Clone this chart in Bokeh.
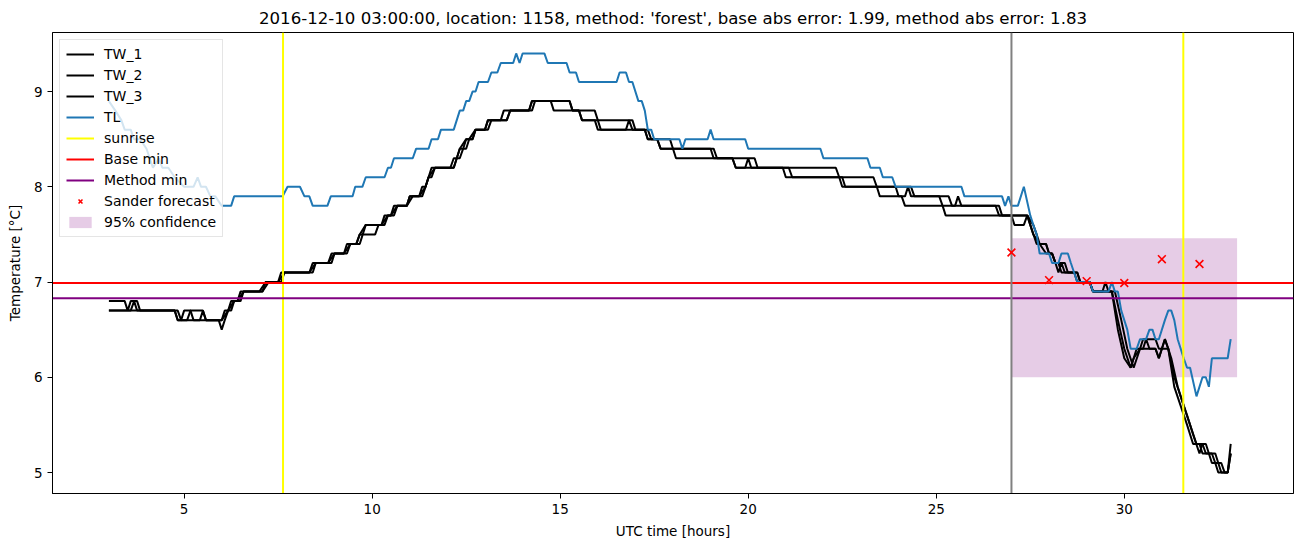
from bokeh.plotting import figure
from bokeh.models import Range1d, FixedTicker, Legend, LegendItem
from bokeh.embed import file_html
from bokeh.resources import INLINE

TITLE = "2016-12-10 03:00:00, location: 1158, method: 'forest', base abs error: 1.99, method abs error: 1.83"

tw1_pts = [(3.00,6.8),(3.42,6.8),(3.50,6.7),(3.58,6.8),(3.75,6.8),(3.83,6.7),
    (4.75,6.7),(4.83,6.6),(5.08,6.6),(5.17,6.7),(5.50,6.7),(5.58,6.6),
    (5.92,6.6),(6.00,6.5),(6.08,6.6),(6.17,6.7),(6.25,6.8),(6.42,6.8),(6.50,6.9),(7.08,6.9),(7.17,7.0),
    (7.50,7.0),(7.58,7.1),(8.33,7.1),(8.42,7.2),(8.83,7.2),(8.92,7.3),(9.25,7.3),(9.33,7.4),(9.58,7.4),
    (9.67,7.5),(9.75,7.5),(9.83,7.6),(10.25,7.6),(10.33,7.7),(10.50,7.7),(10.58,7.8),(10.92,7.8),(11.00,7.9),
    (11.25,7.9),(11.33,8.0),(11.42,8.0),(11.50,8.1),(11.58,8.2),(12.08,8.2),(12.17,8.3),(12.25,8.3),(12.33,8.4),
    (12.42,8.4),(12.50,8.5),(12.67,8.5),(12.75,8.6),(13.00,8.6),(13.08,8.7),(13.42,8.7),(13.50,8.8),(14.17,8.8),
    (14.25,8.9),(14.75,8.9),(14.83,8.8),(15.50,8.8),(15.58,8.7),(15.92,8.7),(16.00,8.6),(16.75,8.6),(16.83,8.7),
    (16.92,8.6),(17.25,8.6),(17.33,8.5),(17.58,8.5),(17.67,8.4),(19.00,8.4),(19.08,8.3),(19.58,8.3),(19.67,8.2),
    (20.92,8.2),(21.00,8.1),(22.42,8.1),(22.50,8.0),(23.42,8.0),(23.50,7.9),(24.08,7.9),(24.17,7.8),(25.17,7.8),
    (25.25,7.7),(27.42,7.7),(27.58,7.5),(27.75,7.4),(27.92,7.4),(28.00,7.3),(28.08,7.3),(28.17,7.2),(28.25,7.2),
    (28.33,7.1),(28.75,7.1),(28.83,7.0),(29.08,7.0),(29.17,6.9),(29.67,6.9),(29.83,6.6),(30.00,6.3),(30.17,6.1),
    (30.33,6.3),(30.50,6.3),(30.58,6.4),(30.67,6.3),(30.83,6.3),(30.92,6.2),(31.08,6.4),(31.17,6.3),(31.33,6.0),
    (31.50,5.8),(31.67,5.6),(31.83,5.4),(32.00,5.2),(32.08,5.3),(32.17,5.3),(32.25,5.2),(32.42,5.2),(32.50,5.1),
    (32.58,5.0),(32.75,5.0),(32.83,5.3)]

tw2_pts = [(3.00,6.7),(3.58,6.7),(3.67,6.8),(3.75,6.7),(4.83,6.7),(4.92,6.6),(5.42,6.6),(5.50,6.7),(5.58,6.6),
    (6.00,6.6),(6.17,6.7),(6.33,6.8),(6.50,6.8),(6.58,6.9),(7.08,6.9),(7.25,7.0),(7.58,7.0),(7.67,7.1),(8.42,7.1),
    (8.50,7.2),(8.92,7.2),(9.00,7.3),(9.33,7.3),(9.42,7.4),(9.67,7.4),(9.75,7.5),(10.08,7.5),(10.17,7.6),(10.33,7.6),
    (10.42,7.7),(10.58,7.7),(10.67,7.8),(10.92,7.8),(11.00,7.9),(11.33,7.9),(11.42,8.0),(11.50,8.1),(11.58,8.1),
    (11.67,8.2),(12.17,8.2),(12.25,8.3),(12.33,8.3),(12.42,8.4),(12.50,8.4),(12.58,8.5),(12.67,8.5),(12.75,8.6),
    (13.00,8.6),(13.08,8.7),(13.58,8.7),(13.67,8.8),(14.17,8.8),(14.25,8.9),(15.25,8.9),(15.33,8.8),(15.50,8.8),
    (15.58,8.7),(16.00,8.7),(16.08,8.6),(17.25,8.6),(17.33,8.5),(17.58,8.5),(17.67,8.4),(19.08,8.4),(19.17,8.3),
    (19.58,8.3),(19.67,8.2),(19.92,8.2),(20.00,8.3),(20.08,8.2),(21.08,8.2),(21.17,8.1),(22.50,8.1),(22.58,8.0),
    (23.92,8.0),(24.00,7.9),(24.17,7.9),(24.25,8.0),(24.33,7.9),(25.08,7.9),(25.17,7.8),(26.58,7.8),(26.67,7.7),
    (27.00,7.7),(27.08,7.6),(27.33,7.6),(27.42,7.7),(27.50,7.6),(27.67,7.4),(27.92,7.4),(28.00,7.3),(28.08,7.3),
    (28.17,7.2),(28.42,7.2),(28.50,7.1),(28.75,7.1),(28.83,7.0),(29.08,7.0),(29.17,6.9),(29.75,6.9),(29.92,6.6),
    (30.08,6.3),(30.25,6.1),(30.42,6.3),(30.50,6.4),(30.83,6.4),(30.92,6.3),(31.17,6.3),(31.25,6.2),(31.42,5.9),
    (31.58,5.7),(31.75,5.5),(31.92,5.3),(32.08,5.3),(32.17,5.2),(32.33,5.2),(32.42,5.1),(32.58,5.1),(32.67,5.0),
    (32.75,5.0),(32.83,5.2)]

tw3_pts = [(3.00,6.7),(4.75,6.7),(4.83,6.6),(4.92,6.6),(5.00,6.7),(5.17,6.7),(5.25,6.6),(6.00,6.6),(6.08,6.7),
    (6.25,6.7),(6.33,6.8),(6.42,6.8),(6.58,6.9),(7.00,6.9),(7.17,7.0),(7.50,7.0),(7.67,7.1),(8.33,7.1),(8.50,7.2),
    (8.83,7.2),(9.00,7.3),(9.25,7.3),(9.42,7.4),(9.58,7.4),(9.67,7.5),(9.83,7.6),(10.25,7.6),(10.42,7.7),(10.50,7.7),
    (10.67,7.8),(10.92,7.8),(11.08,7.9),(11.25,7.9),(11.42,8.0),(11.50,8.1),(11.67,8.2),(12.17,8.2),(12.25,8.3),
    (12.33,8.4),(12.50,8.5),(12.58,8.5),(12.75,8.6),(13.08,8.6),(13.17,8.7),(13.58,8.7),(13.67,8.8),(14.25,8.8),
    (14.33,8.9),(15.25,8.9),(15.33,8.8),(15.92,8.8),(16.00,8.7),(16.92,8.7),(17.00,8.6),(17.33,8.6),(17.42,8.5),
    (17.92,8.5),(18.00,8.4),(18.08,8.3),(20.17,8.3),(20.25,8.2),(22.33,8.2),(22.42,8.1),(23.33,8.1),(23.42,8.0),
    (24.33,8.0),(24.42,7.9),(25.33,7.9),(25.42,7.8),(25.50,7.8),(25.58,7.9),(25.67,7.8),(26.67,7.8),(26.75,7.7),
    (27.42,7.7),(27.58,7.6),(27.67,7.5),(27.75,7.4),(27.92,7.3),(28.08,7.3),(28.17,7.2),(28.25,7.1),(28.33,7.2),
    (28.42,7.1),(28.67,7.1),(28.75,7.0),(29.08,7.0),(29.17,6.9),(29.42,6.9),(29.50,7.0),(29.58,6.9),(29.67,6.9),
    (29.83,6.5),(30.00,6.2),(30.17,6.1),(30.25,6.2),(30.42,6.3),(30.83,6.3),(30.92,6.2),(31.08,6.4),(31.17,6.3),
    (31.33,5.9),(31.50,5.7),(31.67,5.5),(31.83,5.3),(32.00,5.3),(32.08,5.2),(32.25,5.2),(32.33,5.1),(32.42,5.1),
    (32.50,5.0),(32.75,5.0),(32.83,5.2)]

tl_pts = [(3.00,8.9),(3.17,8.8),(3.33,8.7),(3.42,8.6),(3.58,8.6),(3.67,8.5),(3.83,8.5),(4.00,8.4),(4.17,8.2),
    (4.33,8.3),(4.42,8.2),(4.58,8.2),(4.75,8.1),(5.00,8.0),(5.25,8.0),(5.36,8.1),(5.45,8.0),(5.58,8.0),(5.70,7.9),
    (5.83,7.9),(6.00,7.8),(6.25,7.8),(6.33,7.9),(7.62,7.9),(7.75,8.0),(8.08,8.0),(8.20,7.9),(8.33,7.9),(8.42,7.8),
    (8.81,7.8),(8.90,7.9),(9.48,7.9),(9.55,8.0),(9.74,8.0),(9.83,8.1),(10.33,8.1),(10.42,8.2),(10.50,8.2),(10.58,8.3),
    (11.08,8.3),(11.17,8.4),(11.50,8.4),(11.58,8.5),(11.75,8.5),(11.83,8.6),(12.17,8.6),(12.25,8.7),(12.33,8.8),
    (12.42,8.8),(12.50,8.9),(12.58,8.9),(12.67,9.0),(12.75,9.0),(12.83,9.1),(13.08,9.1),(13.17,9.2),(13.33,9.2),
    (13.42,9.3),(13.75,9.3),(13.83,9.4),(13.92,9.3),(14.00,9.4),(14.58,9.4),(14.67,9.3),(15.17,9.3),(15.25,9.2),
    (15.42,9.2),(15.50,9.1),(16.50,9.1),(16.58,9.2),(16.75,9.2),(16.83,9.1),(16.92,9.1),(17.08,8.9),(17.17,8.9),
    (17.25,8.8),(17.33,8.6),(17.42,8.6),(17.50,8.5),(18.17,8.5),(18.25,8.4),(18.33,8.5),(18.92,8.5),(19.00,8.6),
    (19.08,8.5),(19.92,8.5),(20.00,8.4),(21.92,8.4),(22.00,8.3),(23.17,8.3),(23.25,8.2),(23.50,8.2),(23.58,8.1),
    (23.83,8.1),(23.92,8.0),(25.67,8.0),(25.75,7.9),(26.75,7.9),(26.83,7.8),(26.92,7.9),(27.00,7.8),(27.17,7.8),
    (27.33,8.0),(27.50,7.7),(27.58,7.6),(27.67,7.5),(27.75,7.3),(28.00,7.3),(28.08,7.2),(28.25,7.2),(28.33,7.3),
    (28.50,7.3),(28.58,7.2),(28.75,7.0),(28.83,7.0),(29.08,7.0),(29.17,6.9),(29.58,6.9),(29.67,7.0),(29.75,6.9),
    (29.83,6.9),(29.92,6.7),(30.08,6.5),(30.17,6.3),(30.33,6.3),(30.42,6.4),(30.58,6.4),(30.67,6.5),(30.75,6.5),
    (30.83,6.4),(30.92,6.4),(31.08,6.6),(31.17,6.7),(31.25,6.7),(31.33,6.6),(31.42,6.4),(31.50,6.3),(31.58,6.2),
    (31.67,6.1),(31.75,6.1),(31.92,5.8),(32.08,6.0),(32.17,6.0),(32.25,5.9),(32.33,6.2),(32.75,6.2),(32.83,6.4)]

sunrise_hours = [7.63, 31.57]
forecast_hour = 27.0
base_min = 6.99
method_min = 6.83
sander_hours = [27, 28, 29, 30, 31, 32]
sander_values = [7.31, 7.02, 7.01, 6.99, 7.24, 7.19]
conf_start, conf_end = 27.0, 33.0
conf_low, conf_high = 6.0, 7.46

X_LO, X_HI = 1.5, 34.5
Y_LO, Y_HI = 4.78, 9.62

FONT = "DejaVu Sans"

p = figure(width=1302, height=547, output_backend="svg", toolbar_location=None,
           x_range=Range1d(X_LO, X_HI), y_range=Range1d(Y_LO, Y_HI),
           min_border_left=52, min_border_right=9, min_border_top=32, min_border_bottom=54)
p.title.text = TITLE
p.title.align = "center"
p.title.text_font = FONT
p.title.text_font_size = "16.6px"
p.title.text_font_style = "normal"
p.title.text_color = "black"
p.title.offset = 0
p.grid.visible = False
p.outline_line_color = "black"
p.outline_line_width = 1
p.background_fill_color = "white"
p.border_fill_color = "white"

for ax in (p.xaxis[0], p.yaxis[0]):
    ax.major_tick_in = 0
    ax.major_tick_out = 5
    ax.minor_tick_line_color = None
    ax.axis_line_color = "black"
    ax.major_tick_line_color = "black"
    ax.major_label_text_font = FONT
    ax.major_label_text_font_size = "13.5px"
    ax.major_label_text_color = "black"
    ax.axis_label_text_font = FONT
    ax.axis_label_text_font_size = "13.5px"
    ax.axis_label_text_font_style = "normal"
    ax.axis_label_text_color = "black"
p.xaxis.ticker = FixedTicker(ticks=[5, 10, 15, 20, 25, 30])
p.yaxis.ticker = FixedTicker(ticks=[5, 6, 7, 8, 9])
p.xaxis.axis_label = "UTC time [hours]"
p.yaxis.axis_label = "Temperature [°C]"
p.xaxis.axis_label_standoff = 6
p.yaxis.axis_label_standoff = 8

band = p.quad(left=[conf_start], right=[conf_end], bottom=[conf_low], top=[conf_high],
              fill_color="purple", fill_alpha=0.2, line_color=None)

tw_renderers = []
for pts in (tw1_pts, tw2_pts, tw3_pts):
    r = p.line([a for a, b in pts], [b for a, b in pts], line_color="black", line_width=2)
    tw_renderers.append(r)
tl = p.line([a for a, b in tl_pts], [b for a, b in tl_pts], line_color="#1f77b4", line_width=2)

sr_first = None
for h in sunrise_hours:
    r = p.line([h, h], [Y_LO, Y_HI], line_color="yellow", line_width=2)
    if sr_first is None:
        sr_first = r
bm = p.line([X_LO, X_HI], [base_min, base_min], line_color="red", line_width=2)
mm = p.line([X_LO, X_HI], [method_min, method_min], line_color="purple", line_width=2)
p.line([forecast_hour, forecast_hour], [Y_LO, Y_HI], line_color="gray", line_width=2)

sander = p.scatter(sander_hours, sander_values, marker="x", size=11, line_color="red", line_width=1.6)

legend = Legend(items=[
    LegendItem(label="TW_1", renderers=[tw_renderers[0]]),
    LegendItem(label="TW_2", renderers=[tw_renderers[1]]),
    LegendItem(label="TW_3", renderers=[tw_renderers[2]]),
    LegendItem(label="TL", renderers=[tl]),
    LegendItem(label="sunrise", renderers=[sr_first]),
    LegendItem(label="Base min", renderers=[bm]),
    LegendItem(label="Method min", renderers=[mm]),
    LegendItem(label="Sander forecast", renderers=[sander]),
    LegendItem(label="95% confidence", renderers=[band]),
], location="top_left")
legend.margin = 7
legend.padding = 6
legend.spacing = 5
legend.glyph_width = 28
legend.glyph_height = 14
legend.label_height = 14
legend.label_standoff = 10
legend.label_text_font = FONT
legend.label_text_font_size = "14px"
legend.label_text_color = "black"
legend.border_line_color = "#cccccc"
legend.background_fill_alpha = 0.8
p.add_layout(legend)

open("out.html", "w").write(file_html(p, INLINE))
